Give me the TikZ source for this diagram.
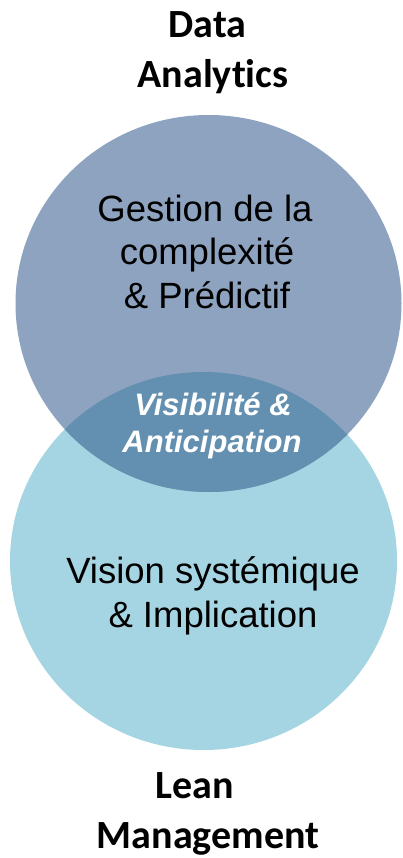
\documentclass[tikz,border=0pt]{standalone}
\usepackage{fontspec}
\setmainfont{Liberation Sans}
\newfontfamily\calibri[Ligatures=NoCommon]{Carlito}
\definecolor{datablue}{HTML}{8DA3BF}
\definecolor{leanblue}{HTML}{A5D5E2}
\definecolor{bothblue}{HTML}{6390B0}

\begin{document}
\begin{tikzpicture}[x=1pt,y=-1pt,inner sep=0pt,
 head/.style={font=\calibri\bfseries\fontsize{40}{50}\selectfont,anchor=base},
 txt/.style={font=\fontsize{36.5}{43}\selectfont,anchor=base},
 mid/.style={font=\bfseries\itshape\fontsize{31}{37}\selectfont,text=white,anchor=base}]
\useasboundingbox (0,0) rectangle (402,858);
% the two circles and their overlap
\fill[leanblue] (203.5,561) ellipse [x radius=193.5,y radius=189];
\fill[datablue] (208.5,303.5) ellipse [x radius=193,y radius=188.5];
\begin{scope}
\clip (208.5,303.5) ellipse [x radius=193,y radius=188.5];
\fill[bothblue] (203.5,561) ellipse [x radius=193.5,y radius=189];
\end{scope}
% titles
\node[head] (data1) at (207.5,38) {Data};
\node[head] (data2) at (213,88) {Analytics};
\node[head] (lean1) at (195,798) {Lean};
\node[head] (lean2) at (208,848) {Management};
% top circle
\node[txt] (gest1) at (205,222) {Gestion de la};
\node[txt] (gest2) at (207,265) {complexité};
\node[txt] (gest3) at (207,308) {\& Prédictif};
% overlap
\node[mid] (vis1) at (213,415) {Visibilité \&};
\node[mid] (vis2) at (212,452) {Anticipation};
% bottom circle
\node[txt] (sys1) at (213,583) {Vision systémique};
\node[txt] (sys2) at (213,627) {\& Implication};
\end{tikzpicture}
\end{document}
